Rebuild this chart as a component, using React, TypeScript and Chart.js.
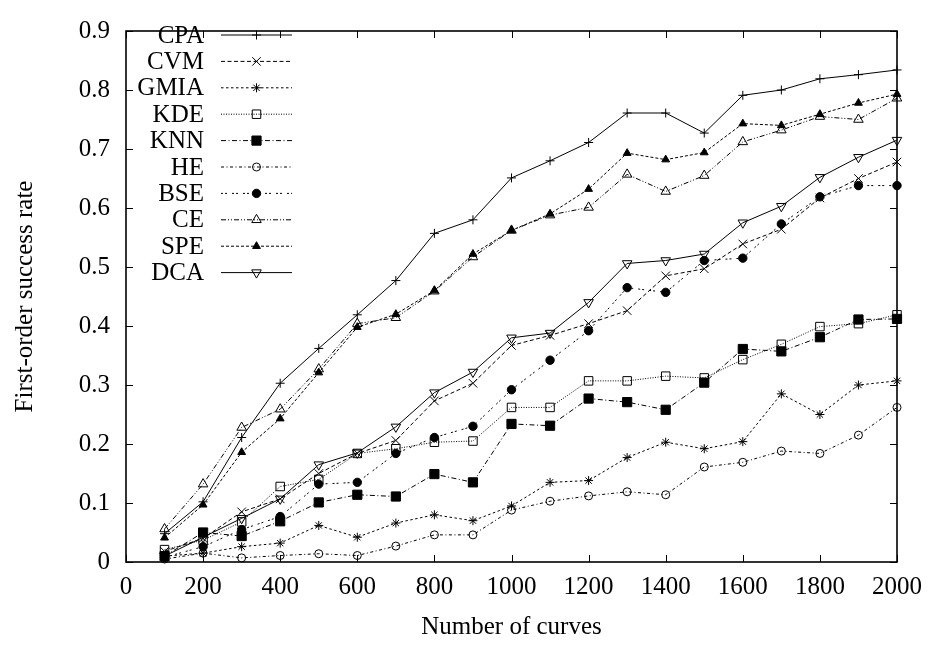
import React, { useEffect, useRef } from 'react';
import { Chart, registerables } from 'chart.js';
import { drawPoint } from 'chart.js/helpers';

Chart.register(...registerables);

const curveCounts = [100, 200, 300, 400, 500, 600, 700, 800, 900, 1000, 1100, 1200, 1300, 1400, 1500, 1600, 1700, 1800, 1900, 2000];

const cpa = [0.048, 0.102, 0.211, 0.303, 0.362, 0.419, 0.477, 0.557, 0.580, 0.651, 0.680, 0.711, 0.761, 0.761, 0.727, 0.791, 0.800, 0.819, 0.826, 0.834];
const cvm = [0.018, 0.040, 0.085, 0.107, 0.150, 0.184, 0.206, 0.273, 0.303, 0.367, 0.384, 0.404, 0.426, 0.485, 0.497, 0.539, 0.564, 0.617, 0.650, 0.678];
const gmia = [0.010, 0.015, 0.026, 0.032, 0.062, 0.042, 0.066, 0.080, 0.070, 0.095, 0.135, 0.138, 0.177, 0.203, 0.192, 0.204, 0.285, 0.250, 0.300, 0.307];
const kde = [0.021, 0.037, 0.068, 0.128, 0.140, 0.184, 0.192, 0.203, 0.205, 0.262, 0.262, 0.307, 0.307, 0.315, 0.312, 0.343, 0.369, 0.399, 0.404, 0.419];
const knn = [0.010, 0.050, 0.044, 0.069, 0.101, 0.114, 0.111, 0.149, 0.135, 0.234, 0.231, 0.277, 0.271, 0.258, 0.304, 0.361, 0.357, 0.381, 0.411, 0.412];
const he = [0.005, 0.015, 0.007, 0.011, 0.014, 0.011, 0.027, 0.046, 0.046, 0.088, 0.103, 0.112, 0.119, 0.114, 0.161, 0.169, 0.188, 0.184, 0.215, 0.262];
const bse = [0.008, 0.026, 0.055, 0.077, 0.132, 0.135, 0.184, 0.211, 0.230, 0.292, 0.342, 0.392, 0.465, 0.457, 0.511, 0.515, 0.573, 0.619, 0.638, 0.638];
const ce = [0.056, 0.132, 0.228, 0.259, 0.327, 0.404, 0.414, 0.459, 0.517, 0.562, 0.588, 0.601, 0.657, 0.628, 0.655, 0.712, 0.732, 0.755, 0.750, 0.786];
const spe = [0.041, 0.097, 0.186, 0.243, 0.321, 0.398, 0.420, 0.460, 0.522, 0.562, 0.590, 0.632, 0.693, 0.682, 0.694, 0.743, 0.740, 0.759, 0.778, 0.793];
const dca = [0.010, 0.042, 0.074, 0.107, 0.165, 0.185, 0.229, 0.287, 0.322, 0.380, 0.388, 0.440, 0.506, 0.511, 0.522, 0.575, 0.603, 0.652, 0.686, 0.715];

const xTickValues = [0, 200, 400, 600, 800, 1000, 1200, 1400, 1600, 1800, 2000];
const yTickValues = [0, 0.1, 0.2, 0.3, 0.4, 0.5, 0.6, 0.7, 0.8, 0.9];

const xTitle = 'Number of curves';
const yTitle = 'First-order success rate';

const FONT_FAMILY = '"Liberation Serif", "Times New Roman", Times, serif';
const INK = '#000000';
const OPEN = 'rgba(0,0,0,0)';

type SeriesDef = {
  label: string;
  values: number[];
  dash: number[];
  pointStyle: string;
  radius: number;
  filled: boolean;
  rotation?: number;
};

const seriesDefs: SeriesDef[] = [
  { label: 'CPA', values: cpa, dash: [], pointStyle: 'cross', radius: 4.5, filled: false },
  { label: 'CVM', values: cvm, dash: [4, 2.5], pointStyle: 'crossRot', radius: 6, filled: false },
  { label: 'GMIA', values: gmia, dash: [2.5, 2.5], pointStyle: 'star', radius: 4.5, filled: false },
  { label: 'KDE', values: kde, dash: [1, 1.5], pointStyle: 'rect', radius: 6, filled: false },
  { label: 'KNN', values: knn, dash: [5, 2.5, 1, 2.5], pointStyle: 'rect', radius: 6.5, filled: true },
  { label: 'HE', values: he, dash: [3, 2.5, 1, 2.5], pointStyle: 'circle', radius: 4, filled: false },
  { label: 'BSE', values: bse, dash: [2, 2, 2, 5], pointStyle: 'circle', radius: 4.2, filled: true },
  { label: 'CE', values: ce, dash: [5, 2, 1, 2, 1, 2], pointStyle: 'triangle', radius: 5.5, filled: false },
  { label: 'SPE', values: spe, dash: [3, 2], pointStyle: 'triangle', radius: 4.5, filled: true },
  { label: 'DCA', values: dca, dash: [], pointStyle: 'triangle', radius: 5.5, filled: false, rotation: 180 },
];

const gnuFrame = {
  id: 'gnuFrame',
  afterDatasetsDraw(chart: any) {
    const { ctx, chartArea } = chart;
    const { left, right, top, bottom } = chartArea;
    const xs = chart.scales.x;
    const ys = chart.scales.y;
    const tick = 7;
    ctx.save();
    ctx.strokeStyle = INK;
    ctx.lineWidth = 1;
    ctx.setLineDash([]);
    ctx.beginPath();
    xTickValues.forEach((v) => {
      const px = Math.round(xs.getPixelForValue(v)) + 0.5;
      ctx.moveTo(px, bottom);
      ctx.lineTo(px, bottom - tick);
      ctx.moveTo(px, top);
      ctx.lineTo(px, top + tick);
    });
    yTickValues.forEach((v) => {
      const py = Math.round(ys.getPixelForValue(v)) + 0.5;
      ctx.moveTo(left, py);
      ctx.lineTo(left + tick, py);
      ctx.moveTo(right, py);
      ctx.lineTo(right - tick, py);
    });
    ctx.stroke();
    ctx.lineWidth = 1.6;
    ctx.strokeRect(left, top, right - left, bottom - top);
    ctx.restore();
  },
};

const gnuLegend = {
  id: 'gnuLegend',
  afterDraw(chart: any) {
    const { ctx } = chart;
    const top = 35;
    const step = 26.4;
    ctx.save();
    chart.data.datasets.forEach((ds: any, i: number) => {
      const y = top + i * step;
      ctx.fillStyle = INK;
      ctx.font = `25px ${FONT_FAMILY}`;
      ctx.textAlign = 'right';
      ctx.textBaseline = 'middle';
      ctx.fillText(ds.label, 204, y + 1);
      ctx.strokeStyle = ds.borderColor;
      ctx.lineWidth = ds.borderWidth;
      ctx.setLineDash(ds.borderDash || []);
      ctx.beginPath();
      ctx.moveTo(221, y);
      ctx.lineTo(292, y);
      ctx.stroke();
      ctx.setLineDash([]);
      ctx.fillStyle = ds.pointBackgroundColor;
      ctx.strokeStyle = ds.pointBorderColor;
      ctx.lineWidth = ds.pointBorderWidth;
      drawPoint(
        ctx,
        {
          pointStyle: ds.pointStyle,
          radius: ds.pointRadius,
          rotation: ds.pointRotation || 0,
          borderWidth: ds.pointBorderWidth,
        } as any,
        256.5,
        y
      );
    });
    ctx.restore();
  },
};

export default function App() {
  const canvasRef = useRef<HTMLCanvasElement | null>(null);

  useEffect(() => {
    if (!canvasRef.current) return;
    const datasets = seriesDefs.map((s) => ({
      label: s.label,
      data: curveCounts.map((x, i) => ({ x, y: s.values[i] })),
      borderColor: INK,
      borderWidth: 1,
      borderDash: s.dash,
      pointStyle: s.pointStyle,
      pointRadius: s.radius,
      pointHoverRadius: s.radius,
      pointRotation: s.rotation || 0,
      pointBorderColor: INK,
      pointBorderWidth: 1,
      pointBackgroundColor: s.filled ? INK : OPEN,
      backgroundColor: s.filled ? INK : OPEN,
      fill: false,
      tension: 0,
      clip: false as any,
    }));

    const chart = new Chart(canvasRef.current, {
      type: 'line',
      data: { datasets: datasets as any },
      options: {
        animation: false,
        responsive: true,
        maintainAspectRatio: false,
        layout: { padding: { left: 0, top: 14, right: 44, bottom: 0 } },
        plugins: {
          legend: { display: false },
          tooltip: { enabled: false },
        },
        scales: {
          x: {
            type: 'linear',
            min: 0,
            max: 2000,
            afterFit: (scale: any) => {
              scale.height = 84;
            },
            afterBuildTicks: (scale: any) => {
              scale.ticks = xTickValues.map((v) => ({ value: v }));
            },
            grid: { display: false, drawTicks: false },
            border: { display: false },
            ticks: {
              color: INK,
              padding: 10,
              maxRotation: 0,
              autoSkip: false,
              font: { family: FONT_FAMILY, size: 25 },
              callback: (v: any) => String(v),
            },
            title: {
              display: true,
              text: xTitle,
              color: INK,
              font: { family: FONT_FAMILY, size: 25 },
              padding: { top: 0, bottom: 4 },
            },
          },
          y: {
            type: 'linear',
            min: 0,
            max: 0.9,
            afterFit: (scale: any) => {
              scale.width = 126;
            },
            afterBuildTicks: (scale: any) => {
              scale.ticks = yTickValues.map((v) => ({ value: v }));
            },
            grid: { display: false, drawTicks: false },
            border: { display: false },
            ticks: {
              color: INK,
              padding: 16,
              autoSkip: false,
              font: { family: FONT_FAMILY, size: 25 },
              callback: (v: any) => (Number(v) === 0 ? '0' : Number(v).toFixed(1)),
            },
            title: {
              display: true,
              text: yTitle,
              color: INK,
              font: { family: FONT_FAMILY, size: 25 },
              padding: { top: 10, bottom: 0 },
            },
          },
        },
      },
      plugins: [gnuFrame, gnuLegend],
    });

    return () => {
      chart.destroy();
    };
  }, []);

  return (
    <div style={{ position: 'absolute', left: 0, top: 0, width: 941, height: 646, background: '#fff' }}>
      <canvas ref={canvasRef} />
    </div>
  );
}
